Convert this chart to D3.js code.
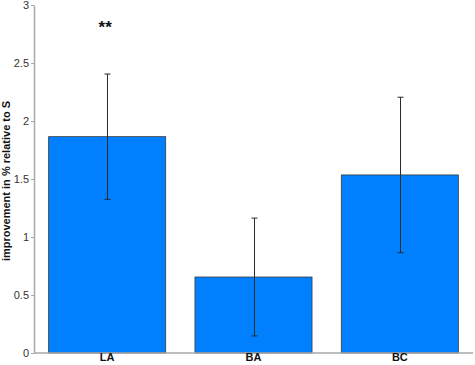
<!DOCTYPE html>
<html>
<head>
<meta charset="utf-8">
<script src="https://cdn.jsdelivr.net/npm/d3@7/dist/d3.min.js"></script>
<style>
  body { margin: 0; background: #fff; }
  svg { display: block; font-family: "Liberation Sans", Arial, sans-serif; }
</style>
</head>
<body>
<svg id="chart" width="475" height="365"></svg>
<script>
const categories = ["LA", "BA", "BC"];
const values = [1.865, 0.655, 1.535];
const errors = [0.54, 0.508, 0.67];
const yTicks = [0, 0.5, 1, 1.5, 2, 2.5, 3];
const yTickLabels = ["0", "0.5", "1", "1.5", "2", "2.5", "3"];
const significance = ["**", "", ""];
const yLabel = "improvement in % relative to S";

(function () {
const svg = d3.select("#chart");
const mLeft = 34, mRight = 473, mTop = 5, mBottom = 353;

const x = d3.scaleBand().domain(categories).range([mLeft, mRight])
  .paddingInner(0.2).paddingOuter(0.1);
const y = d3.scaleLinear().domain([0, 3]).range([mBottom, mTop]);

// bars
svg.append("g").selectAll("rect").data(categories).join("rect")
  .attr("x", d => x(d))
  .attr("y", (d, i) => y(values[i]))
  .attr("width", x.bandwidth())
  .attr("height", (d, i) => y(0) - y(values[i]))
  .attr("fill", "#0080ff")
  .attr("stroke", "#3a3a3a")
  .attr("stroke-width", 0.8);

// error bars
const eg = svg.append("g").attr("stroke", "#2a2a2a").attr("stroke-width", 1);
categories.forEach((c, i) => {
  const cx = Math.round(x(c) + x.bandwidth() / 2) + 0.5;
  const y1 = y(values[i] + errors[i]), y2 = y(values[i] - errors[i]);
  eg.append("line").attr("x1", cx).attr("x2", cx).attr("y1", y1).attr("y2", y2);
  eg.append("line").attr("x1", cx - 3).attr("x2", cx + 3).attr("y1", y1).attr("y2", y1);
  eg.append("line").attr("x1", cx - 3).attr("x2", cx + 3).attr("y1", y2).attr("y2", y2);
});

// significance
svg.append("g").selectAll("text").data(categories).join("text")
  .attr("x", d => x(d) + x.bandwidth() / 2 - 2)
  .attr("y", 33)
  .attr("text-anchor", "middle")
  .attr("font-size", 17)
  .attr("font-weight", "bold")
  .attr("fill", "#111")
  .text((d, i) => significance[i]);

// y axis
const yAxis = d3.axisLeft(y).tickValues(yTicks)
  .tickFormat((d, i) => yTickLabels[i]).tickSize(3).tickSizeOuter(0);
const ga = svg.append("g").attr("transform", `translate(${mLeft},0)`).call(yAxis);
ga.select(".domain").attr("stroke", "#a8a8a8").attr("stroke-width", 1.5);
ga.selectAll(".tick line").attr("stroke", "#a8a8a8");
ga.selectAll(".tick text").attr("font-size", 11).attr("fill", "#333")
  .attr("font-family", "Liberation Sans, Arial, sans-serif").attr("x", -5);

// x axis
const xAxis = d3.axisBottom(x).tickSize(0).tickSizeOuter(0);
const gx = svg.append("g").attr("transform", `translate(0,${mBottom})`).call(xAxis);
gx.select(".domain").attr("stroke", "#a8a8a8").attr("stroke-width", 1.5)
  .attr("d", `M${mLeft},0H${mRight}`);
gx.selectAll(".tick text").attr("font-size", 11).attr("font-weight", "bold")
  .attr("fill", "#111").attr("font-family", "Liberation Sans, Arial, sans-serif")
  .attr("dy", "0.55em").attr("y", 2);

// y label
svg.append("text")
  .attr("transform", `translate(10,${(mTop + mBottom) / 2 + 2}) rotate(-90)`)
  .attr("text-anchor", "middle")
  .attr("font-size", 11)
  .attr("font-weight", "bold")
  .attr("fill", "#111")
  .text(yLabel);
})();
</script>
</body>
</html>
